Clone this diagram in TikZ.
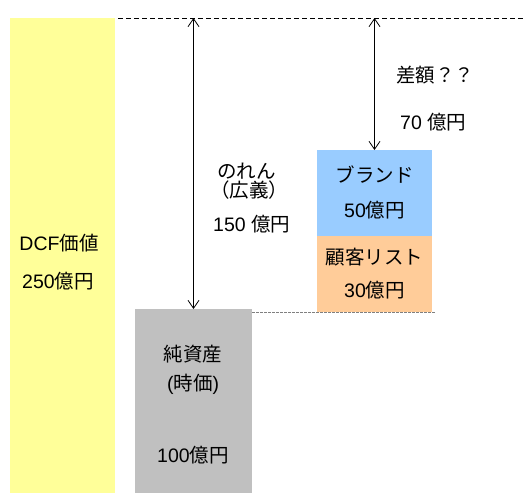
\documentclass[tikz,border=0pt]{standalone}
\usepackage{fontspec}
\setmainfont{Liberation Sans}
\newfontfamily\jpf{Noto Sans CJK JP}
\newcommand{\jp}[1]{{\jpf #1}}
\usetikzlibrary{arrows.meta}
\definecolor{dcfyellow}{HTML}{FFFF99}
\definecolor{nagray}{HTML}{C0C0C0}
\definecolor{brblue}{HTML}{99CCFF}
\definecolor{cuorange}{HTML}{FFCC99}
\begin{document}
\begin{tikzpicture}[x=1pt,y=-1pt,
  box/.style={draw=none,inner sep=0pt,outer sep=0pt,anchor=north west},
  lbl/.style={inner sep=0pt,font=\fontsize{19.5}{22}\selectfont},
  dim/.style={{Straight Barb[length=8pt,width=11pt]}-{Straight Barb[length=8pt,width=11pt]},line width=0.8pt},
  guide/.style={dash pattern=on 4.5pt off 3.5pt,line width=0.8pt},
  dotguide/.style={dash pattern=on 2.5pt off 1.5pt,line width=0.8pt,draw=gray}]
\useasboundingbox (0,0) rectangle (524,493);
% boxes
\node[box,fill=dcfyellow,minimum width=105pt,minimum height=475pt] (dcf) at (10,18) {};
\node[box,fill=nagray,minimum width=117pt,minimum height=184pt] (na) at (135,309) {};
\node[box,fill=brblue,minimum width=115pt,minimum height=86pt] (br) at (317,150) {};
\node[box,fill=cuorange,minimum width=115pt,minimum height=76pt] (cu) at (317,236) {};
% guide lines
\coordinate (dl) at (118,18);
\coordinate (dr) at (524,18);
\draw[guide] (dl) -- (dr);
\coordinate (gl) at (252,312);
\coordinate (gr) at (435,312);
\draw[dotguide] (gl) -- (gr);
% dimension arrows
\coordinate (t1) at (193.5,18);
\coordinate (t2) at (374.5,18);
\draw[dim] (t1) -- (na.north);
\draw[dim] (t2) -- (br.north);
% labels
\node[lbl] (l1) at (59,243) {DCF\jp{価値}};
\node[lbl] (l2) at (58,281) {250\jp{億円}};
\node[lbl] (l3) at (193,354) {\jp{純資産}};
\node[lbl] (l4) at (193,384) {(\jp{時価})};
\node[lbl] (l5) at (193,455) {100\jp{億円}};
\node[lbl,anchor=west] (l6) at (217,171) {\jp{のれん}};
\node[lbl,anchor=west] (l7) at (210,190) {\jp{（広義）}};
\node[lbl,anchor=west] (l8) at (213,224) {150 \jp{億円}};
\node[lbl,anchor=west] (l9) at (396,75) {\jp{差額？？}};
\node[lbl,anchor=west] (l10) at (400,122) {70 \jp{億円}};
\node[lbl] (l11) at (374.5,175) {\jp{ブランド}};
\node[lbl] (l12) at (374.5,210) {50\jp{億円}};
\node[lbl] (l13) at (374.5,257.5) {\jp{顧客リスト}};
\node[lbl] (l14) at (374.5,290) {30\jp{億円}};
\end{tikzpicture}
\end{document}
